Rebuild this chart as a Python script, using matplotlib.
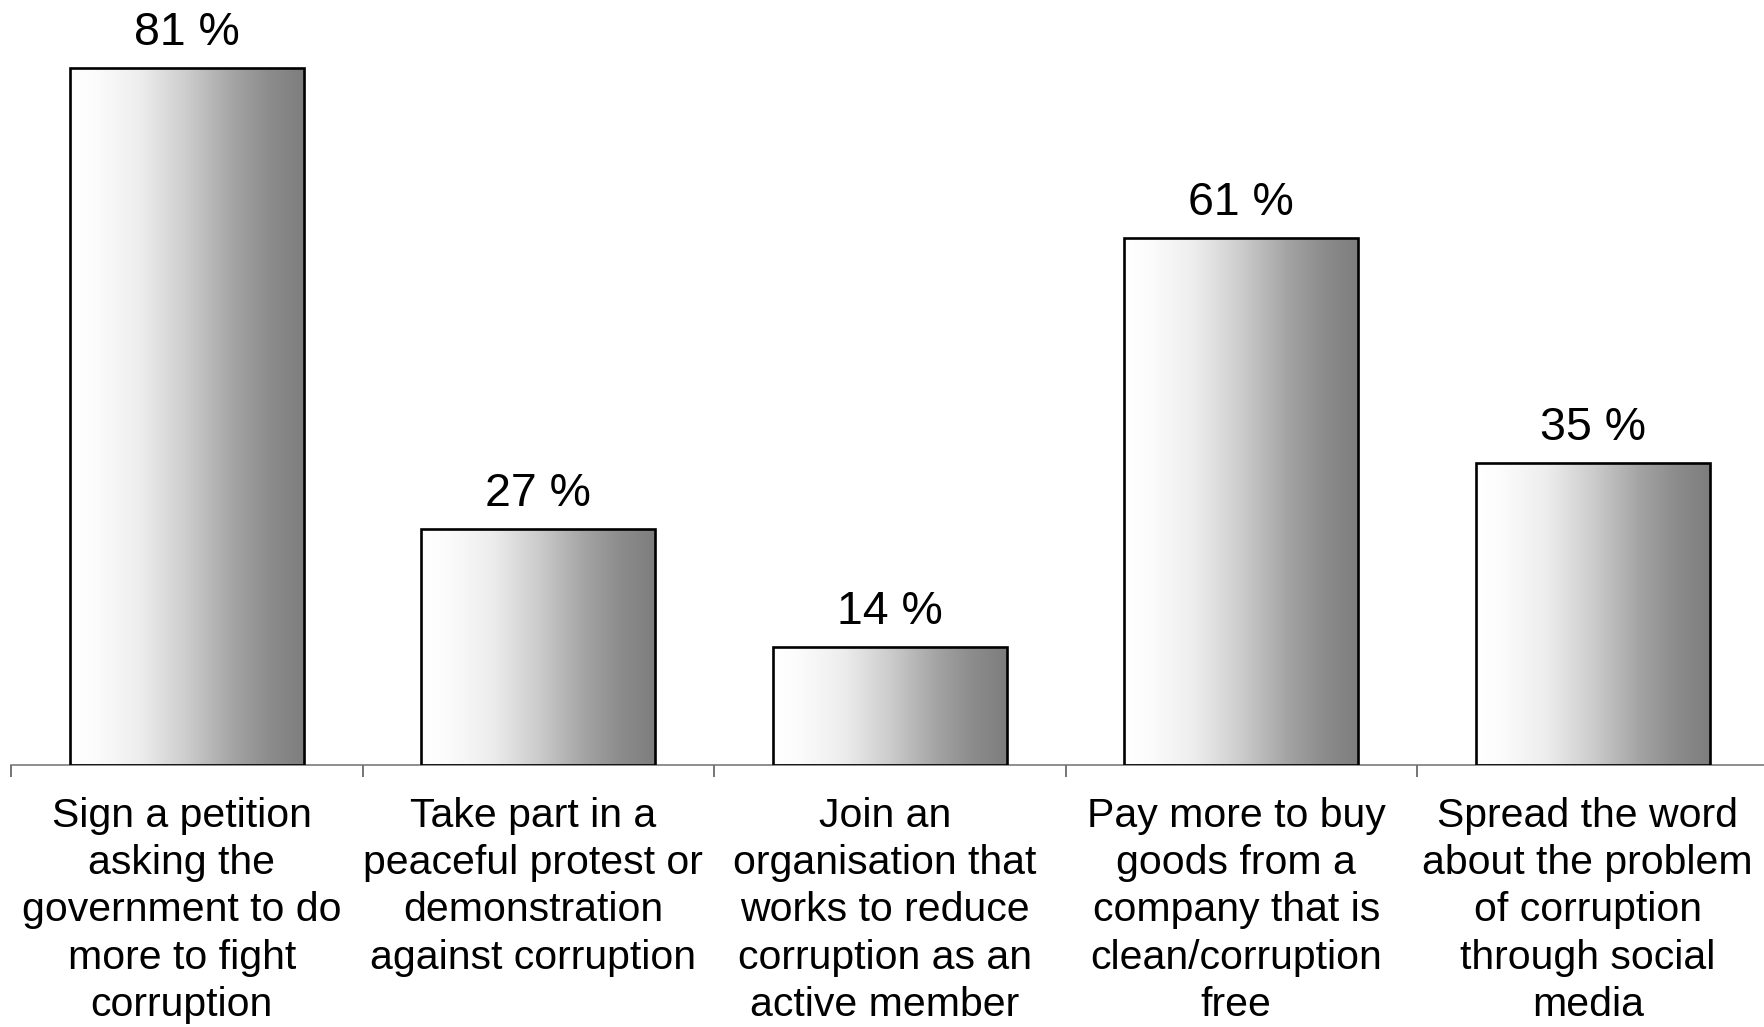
import numpy as np
import matplotlib
matplotlib.use("Agg")
import matplotlib.pyplot as plt
import matplotlib.transforms as mtransforms
from matplotlib.colors import LinearSegmentedColormap

categories = [
    "Sign a petition\nasking the\ngovernment to do\nmore to fight\ncorruption",
    "Take part in a\npeaceful protest or\ndemonstration\nagainst corruption",
    "Join an\norganisation that\nworks to reduce\ncorruption as an\nactive member",
    "Pay more to buy\ngoods from a\ncompany that is\nclean/corruption\nfree",
    "Spread the word\nabout the problem\nof corruption\nthrough social\nmedia",
]
values = [80.7, 27.3, 13.7, 61.0, 35.0]
value_labels = ["81 %", "27 %", "14 %", "61 %", "35 %"]

plt.rcParams['font.family'] = ['Liberation Sans', 'DejaVu Sans']

W, H = 1765, 1027
fig = plt.figure(figsize=(W / 100, H / 100), dpi=100)
ax_left = 11 / W
ax_bottom = (H - 765) / H
ax = fig.add_axes([ax_left, ax_bottom, 1.002 - ax_left, 1 - ax_bottom])

ymax = 765 / 8.64
ax.set_xlim(-0.5, 4.5)
ax.set_ylim(0, ymax)

cmap = LinearSegmentedColormap.from_list(
    "g", [(0.0, (1, 1, 1)), (0.1, (0.99, 0.99, 0.99)), (0.3, (0.93, 0.93, 0.93)),
          (0.5, (0.80, 0.80, 0.80)), (0.7, (0.64, 0.64, 0.64)), (0.85, (0.55, 0.55, 0.55)),
          (1.0, (0.49, 0.49, 0.49))])
grad = np.linspace(0, 1, 256).reshape(1, -1)

width = 0.666
bars = ax.bar(range(len(values)), values, width=width, facecolor='none',
              edgecolor='black', linewidth=1.9, zorder=3)
for b in bars:
    x0, y0 = b.get_x(), b.get_y()
    im = ax.imshow(grad, cmap=cmap, aspect='auto',
                   extent=[x0, x0 + b.get_width(), y0, y0 + b.get_height()],
                   zorder=2, interpolation='bilinear')
    im.set_clip_path(b)

for i, (v, lab) in enumerate(zip(values, value_labels)):
    ax.annotate(lab, (i, v), xytext=(0, 16.5), textcoords='offset points',
                ha='center', va='baseline', fontsize=33.5, color='black')

for s in ['top', 'right', 'left']:
    ax.spines[s].set_visible(False)
ax.spines['bottom'].set_color('#707070')
ax.spines['bottom'].set_linewidth(1.1)

ax.set_yticks([])
ax.set_xticks(range(len(values)))
ax.set_xticklabels(categories, fontsize=29.5, linespacing=1.315)
ax.tick_params(axis='x', which='major', length=0, pad=22.7)
ax.set_xticks(np.arange(-0.5, 5.0, 1.0), minor=True)
ax.tick_params(axis='x', which='minor', length=8.8, color='#505050', width=1.1)

offset = mtransforms.ScaledTranslation(-5 / 100, 0, fig.dpi_scale_trans)
for lbl in ax.get_xticklabels():
    lbl.set_transform(lbl.get_transform() + offset)

fig.savefig("out.png", dpi=100)
